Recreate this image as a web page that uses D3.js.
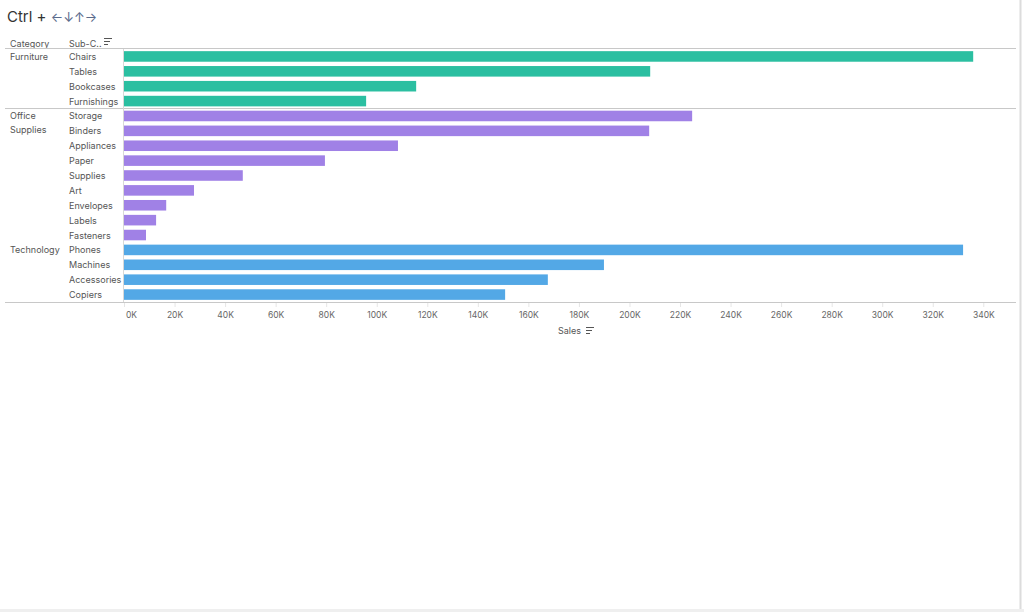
<!DOCTYPE html>
<html><head><meta charset="utf-8">
<script src="https://cdn.jsdelivr.net/npm/d3@7"></script>
<style>
html,body{margin:0;padding:0;background:#fff;}
svg{display:block;font-family:Inter, "Open Sans", sans-serif;}
</style></head>
<body>
<svg id="chart" width="1024" height="612"></svg>
<script>
const categories = ["Furniture","Office Supplies","Technology"];
const subCategories = ["Chairs","Tables","Bookcases","Furnishings",
  "Storage","Binders","Appliances","Paper","Supplies","Art","Envelopes","Labels","Fasteners",
  "Phones","Machines","Accessories","Copiers"];
const subCategoryGroup = ["Furniture","Furniture","Furniture","Furniture",
  "Office Supplies","Office Supplies","Office Supplies","Office Supplies","Office Supplies","Office Supplies","Office Supplies","Office Supplies","Office Supplies",
  "Technology","Technology","Technology","Technology"];
const sales = [336000,208200,115600,95800,
  224800,207800,108400,79500,47000,27700,16700,12700,8700,
  332000,189900,167700,150800];
const tickValues = [0,20000,40000,60000,80000,100000,120000,140000,160000,180000,200000,220000,240000,260000,280000,300000,320000,340000];
const categoryColors = ["#2bbfa1","#a081e6","#53a8e6"];

(function(){
const svg = d3.select("#chart");
const pLeft = 124, pTop = 49, pBottom = 302, pRight = 1016;
const txt = "#555";

const x = d3.scaleLinear().domain([0, 340000]).range([pLeft, 983.3]);
const y = d3.scaleBand().domain(subCategories).range([pTop, pBottom]).paddingInner(0.29).paddingOuter(0.145);
const color = d3.scaleOrdinal().domain(categories).range(categoryColors);

// page borders
svg.append("rect").attr("x",0).attr("y",609).attr("width",1024).attr("height",3).attr("fill","#efefef");
svg.append("line").attr("x1",1020.5).attr("x2",1020.5).attr("y1",0).attr("y2",609).attr("stroke","#dcdcdc").attr("stroke-width",2);

// title
const title = svg.append("text").attr("x",7).attr("y",22).attr("font-size",15).attr("fill","#333");
title.append("tspan").text("Ctrl + ");
title.append("tspan").attr("font-size",13).attr("fill","#5a6b8c").text("←↓↑→");

// header
const hdr = svg.append("g").attr("font-size",9).attr("fill",txt);
hdr.append("text").attr("x",10).attr("y",47).text("Category");
hdr.append("text").attr("x",69).attr("y",47).text("Sub-C..");
function sortIcon(gx, gy){
  const g = svg.append("g").attr("stroke","#555").attr("stroke-width",1);
  [8,6,4].forEach((w,i)=>g.append("line").attr("x1",gx).attr("x2",gx+w).attr("y1",gy+i*3+0.5).attr("y2",gy+i*3+0.5));
}
sortIcon(104,38);

// separators
const catRows = categories.map(c => subCategories.filter((s,i)=>subCategoryGroup[i]===c));
svg.append("line").attr("x1",5).attr("x2",pRight).attr("y1",pTop-0.5).attr("y2",pTop-0.5).attr("stroke","#c8c8c8");
const furnLast = catRows[0][catRows[0].length-1];
const sepY = y(furnLast) + y.bandwidth() + y.step()*y.paddingInner()/2;
svg.append("line").attr("x1",5).attr("x2",pRight).attr("y1",sepY).attr("y2",sepY).attr("stroke","#c8c8c8");
svg.append("line").attr("x1",5).attr("x2",pRight).attr("y1",pBottom+0.5).attr("y2",pBottom+0.5).attr("stroke","#c8c8c8");

// zero line
svg.append("line").attr("x1",x(0)-0.5).attr("x2",x(0)-0.5).attr("y1",pTop).attr("y2",pBottom).attr("stroke","#d8d8d8");

// category labels
const catG = svg.append("g").attr("font-size",9).attr("fill",txt);
categories.forEach((c,ci)=>{
  const yy = y(catRows[ci][0]) + y.bandwidth()/2 + 3.5;
  const parts = c === "Office Supplies" ? ["Office","Supplies"] : [c];
  parts.forEach((p,pi)=>catG.append("text").attr("x",10).attr("y",yy + pi*y.step()*0.9).text(p));
});

// sub-category labels
svg.append("g").attr("font-size",9).attr("fill",txt)
  .selectAll("text").data(subCategories).join("text")
  .attr("x",69).attr("y",d=>y(d)+y.bandwidth()/2+3.5).text(d=>d);

// bars
svg.append("g").selectAll("rect").data(subCategories).join("rect")
  .attr("x",x(0)).attr("y",d=>y(d))
  .attr("width",(d,i)=>x(sales[i])-x(0)).attr("height",y.bandwidth())
  .attr("fill",(d,i)=>color(subCategoryGroup[i]));

// axis
const axis = d3.axisBottom(x).tickValues(tickValues).tickSize(4).tickPadding(5)
  .tickFormat(d=>d3.format("d")(d/1000)+"K");
const ag = svg.append("g").attr("transform",`translate(0,${pBottom+1})`).call(axis);
ag.select(".domain").remove();
ag.selectAll(".tick line").attr("stroke","#e6e6e6");
ag.selectAll(".tick text").attr("font-size",8.5).attr("fill","#666").attr("font-family","Inter, sans-serif");
ag.selectAll(".tick text").filter(d=>d===0).attr("dx",7);

svg.append("text").attr("x",558).attr("y",334).attr("font-size",9).attr("fill",txt).text("Sales");
sortIcon(586,327);
})();
</script>
</body></html>
